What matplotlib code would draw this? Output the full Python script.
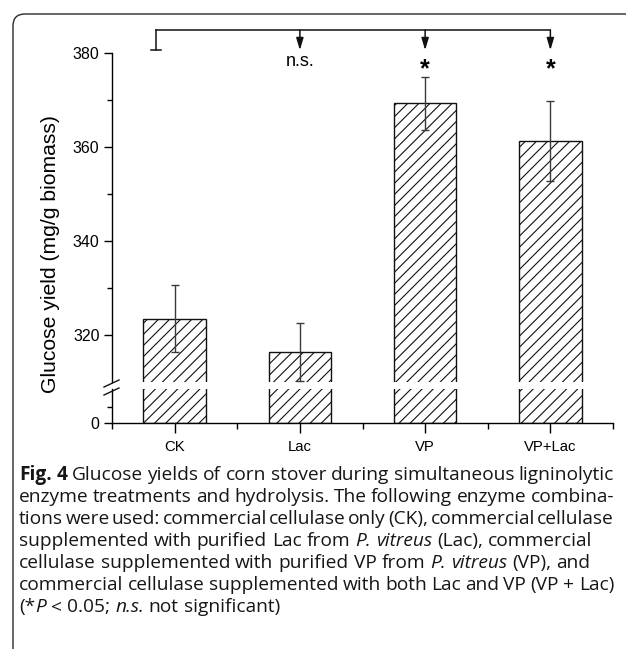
import matplotlib
matplotlib.use('Agg')
import matplotlib.pyplot as plt
from matplotlib.lines import Line2D
from matplotlib.patches import PathPatch
from matplotlib.path import Path
from matplotlib.transforms import IdentityTransform

# ---------------- data ----------------
categories = ['CK', 'Lac', 'VP', 'VP+Lac']
glucose_mean = [323.5, 316.4, 369.3, 361.2]
glucose_err = [7.1, 6.2, 5.7, 8.5]
sig_labels = ['', 'n.s.', '*', '*']
upper_ticks = [320, 340, 360, 380]
upper_minor = [330, 350, 370]
lower_ticks = [0]
lower_minor = [10]
ylabel = 'Glucose yield (mg/g biomass)'

caption_lines = [
    "[Fig. 4]  Glucose yields of corn stover during simultaneous ligninolytic",
    "enzyme treatments and hydrolysis. The following enzyme combina-",
    "tions were used: commercial cellulase only (CK), commercial cellulase",
    "supplemented with purified Lac from {P. vitreus} (Lac), commercial",
    "cellulase supplemented with purified VP from {P. vitreus} (VP), and",
    "commercial cellulase supplemented with both Lac and VP (VP + Lac)",
    "(*{P} < 0.05; {n.s.} not significant)",
]
caption_justified = [True, True, True, False, False, True, False]

# ---------------- layout ----------------
W, H = 626, 649
plt.rcParams['hatch.linewidth'] = 0.8
plt.rcParams['hatch.color'] = '#222222'
fig = plt.figure(figsize=(W / 100, H / 100), dpi=100)


def fx(px):
    return px / W


def fy(py):
    return 1 - py / H


AX_L, AX_R = 112, 613
ax_top = fig.add_axes([fx(AX_L), fy(382), fx(AX_R) - fx(AX_L), fy(53) - fy(382)])
ax_bot = fig.add_axes([fx(AX_L), fy(423), fx(AX_R) - fx(AX_L), fy(389) - fy(423)])

x = list(range(len(categories)))
ARIAL = ['Liberation Sans', 'DejaVu Sans']
tick_font = dict(family=ARIAL, size=11.5)

for ax in (ax_top, ax_bot):
    ax.bar(x, glucose_mean, width=0.5, color='white', edgecolor='#111111',
           hatch='///', linewidth=1.0, zorder=2)
    ax.set_xlim(-0.5, 3.5)
    for s in ('top', 'right'):
        ax.spines[s].set_visible(False)
    for s in ('left', 'bottom'):
        ax.spines[s].set_linewidth(1.0)
    ax.set_facecolor('none')

ax_top.set_ylim(310, 380)
ax_top.spines['bottom'].set_visible(False)
ax_top.set_yticks(upper_ticks)
ax_top.set_yticks(upper_minor, minor=True)
ax_top.set_yticklabels([str(t) for t in upper_ticks], fontdict=tick_font)
ax_top.tick_params(axis='y', which='major', direction='out', length=6, width=1, pad=3)
ax_top.tick_params(axis='y', which='minor', direction='out', length=3.5, width=1)
ax_top.tick_params(axis='x', which='both', bottom=False, labelbottom=False)

ax_bot.set_ylim(0, 21)
ax_bot.set_yticks(lower_ticks)
ax_bot.set_yticks(lower_minor, minor=True)
ax_bot.set_yticklabels([str(t) for t in lower_ticks], fontdict=tick_font)
ax_bot.tick_params(axis='y', which='major', direction='out', length=6, width=1, pad=3)
ax_bot.tick_params(axis='y', which='minor', direction='out', length=3.5, width=1)
ax_bot.set_xticks(x)
ax_bot.set_xticks([i - 0.5 for i in range(len(categories) + 1)], minor=True)
ax_bot.set_xticklabels(categories, fontdict=dict(family=ARIAL, size=10.7))
ax_bot.tick_params(axis='x', which='major', direction='out', length=7, width=1, pad=5)
ax_bot.tick_params(axis='x', which='minor', direction='out', length=4, width=1)

# error bars
eb = ax_top.errorbar(x, glucose_mean, yerr=glucose_err, fmt='none', ecolor='#3a3a3a',
                     elinewidth=1.0, capsize=3, capthick=1.0, zorder=3)
for art in list(eb.lines[1]) + list(eb.lines[2]):
    art.set_clip_on(False)

# significance bracket
bracket_y = 384.9
tip_y = 380.6
ref_x = -0.145
ax_top.plot([ref_x, x[-1]], [bracket_y, bracket_y], color='#111111', lw=1.1, clip_on=False)
ax_top.plot([ref_x, ref_x], [bracket_y, tip_y], color='#111111', lw=1.1, clip_on=False)
ax_top.plot([ref_x - 0.04, ref_x + 0.04], [tip_y, tip_y], color='#111111', lw=1.1, clip_on=False)
for xi, lab in zip(x, sig_labels):
    if not lab:
        continue
    ax_top.annotate('', xy=(xi, tip_y), xytext=(xi, bracket_y), annotation_clip=False,
                    arrowprops=dict(arrowstyle='-|>,head_length=0.6,head_width=0.18',
                                    mutation_scale=12, color='#111111', lw=1.1,
                                    shrinkA=0, shrinkB=0))
    if lab == '*':
        ax_top.text(xi, 375.0, lab, ha='center', va='baseline', fontsize=18, weight='bold',
                    family=ARIAL, clip_on=False)
    else:
        ax_top.text(xi, 377.2, lab, ha='center', va='baseline', fontsize=13,
                    family=ARIAL, clip_on=False)

# axis break marks
for (x0, y0, x1, y1) in [(104, 387, 119, 380), (104, 395, 119, 388)]:
    fig.add_artist(Line2D([x0, x1], [H - y0, H - y1], color='#111111', lw=1.0,
                          transform=IdentityTransform()))

# y label
fig.text(fx(51), fy(254), ylabel, rotation=90, ha='center', va='center',
         fontsize=15.2, family=ARIAL)

# rounded frame, open to the right and bottom (page crop)
FL, FT, R = 13, 14, 12
verts = [(FL, -10), (FL, H - FT - R), (FL, H - FT), (FL + R, H - FT), (W + 20, H - FT)]
codes = [Path.MOVETO, Path.LINETO, Path.CURVE3, Path.CURVE3, Path.LINETO]
fig.add_artist(PathPatch(Path(verts, codes), transform=IdentityTransform(),
                         facecolor='none', edgecolor='#2a2a2a', lw=1.0, clip_on=False))

# ---------------- caption ----------------
fig.canvas.draw()
renderer = fig.canvas.get_renderer()
CAP_FAMILY = ['Open Sans', 'DejaVu Sans']


def parse(line):
    words = [[]]
    style = 'normal'
    buf = ''
    for ch in line:
        if ch in '{}[] ':
            if buf:
                words[-1].append((buf, style))
                buf = ''
            if ch == '{':
                style = 'italic'
            elif ch == '[':
                style = 'bold'
            elif ch in '}]':
                style = 'normal'
            else:
                words.append([])
        else:
            buf += ch
    if buf:
        words[-1].append((buf, style))
    return [w for w in words if w]


def props(style, size):
    d = dict(fontsize=size, family=CAP_FAMILY, color='#161616')
    if style == 'italic':
        d['style'] = 'italic'
    if style == 'bold':
        d['weight'] = 'bold'
    return d


def width(s, style, size):
    t = fig.text(0, 0, s, transform=IdentityTransform(), **props(style, size))
    w = t.get_window_extent(renderer).width
    t.remove()
    return w


def space_w(size):
    return width('x x', 'normal', size) - width('xx', 'normal', size)


def natural_width(line, size):
    ws = parse(line)
    tot = sum(width(f, st, size) for w in ws for f, st in w)
    return tot + space_w(size) * (len(ws) - 1)


base = 11.0
cap_size = base * 574 / natural_width(caption_lines[3], base)

CAP_L, CAP_R = 19, 614
baseline0, lead = 480, 22.0
for i, (line, just) in enumerate(zip(caption_lines, caption_justified)):
    ws = parse(line)
    wwidths = [sum(width(f, st, cap_size) for f, st in w) for w in ws]
    gap = space_w(cap_size)
    if just and len(ws) > 1:
        gap = (CAP_R - CAP_L - sum(wwidths)) / (len(ws) - 1)
    xpos = CAP_L
    yb = H - (baseline0 + i * lead)
    for w, ww in zip(ws, wwidths):
        xx = xpos
        for f, st in w:
            fig.text(xx, yb, f, transform=IdentityTransform(), ha='left', va='baseline',
                     **props(st, cap_size))
            xx += width(f, st, cap_size)
        xpos += ww + gap

fig.savefig('out.png', dpi=100)
